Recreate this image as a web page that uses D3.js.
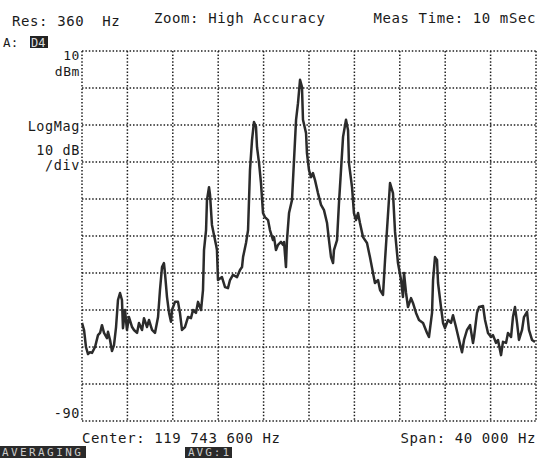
<!DOCTYPE html>
<html>
<head>
<meta charset="utf-8">
<script src="https://cdn.jsdelivr.net/npm/d3@7"></script>
<style>
  html, body { margin: 0; padding: 0; background: #fff; }
  svg { display: block; }
  text { font-family: "DejaVu Sans Mono", "Liberation Mono", monospace; fill: #1a1a1a; white-space: pre; }
</style>
</head>
<body>
<svg id="chart" width="538" height="458"></svg>
<script>
// ---- data (frequency offset from center in kHz, level in dBm) ----
const freqOffsetKHz = [
  -20.00,-19.82,-19.65,-19.47,-19.30,-19.12,-18.85,-18.59,-18.41,-18.24,
  -18.06,-17.80,-17.71,-17.53,-17.36,-17.18,-17.00,-16.83,-16.65,-16.48,
  -16.39,-16.21,-16.04,-15.86,-15.59,-15.42,-15.15,-14.98,-14.71,-14.54,
  -14.27,-14.10,-13.83,-13.57,-13.30,-13.13,-12.95,-12.78,-12.69,-12.51,
  -12.33,-12.16,-12.07,-11.81,-11.54,-11.37,-11.19,-10.93,-10.66,-10.40,
  -10.22,-9.96,-9.78,-9.51,-9.34,-9.25,-9.07,-8.99,-8.81,-8.72,
  -8.55,-8.37,-8.19,-8.11,-8.02,-7.67,-7.40,-7.14,-6.96,-6.70,
  -6.34,-6.08,-5.90,-5.81,-5.55,-5.37,-5.20,-5.02,-4.85,-4.67,
  -4.58,-4.40,-4.23,-4.05,-3.88,-3.61,-3.44,-3.17,-3.08,-2.91,
  -2.73,-2.47,-2.29,-2.20,-2.03,-1.94,-1.76,-1.50,-1.32,-1.14,
  -0.97,-0.79,-0.62,-0.53,-0.26,-0.18,0.00,0.18,0.35,0.53,
  0.79,1.06,1.32,1.59,1.76,1.94,2.12,2.20,2.47,2.64,
  2.82,3.00,3.26,3.44,3.52,3.79,3.96,4.14,4.32,4.49,
  4.76,5.11,5.37,5.64,5.81,6.08,6.26,6.52,6.70,6.87,
  7.14,7.40,7.58,7.84,8.11,8.28,8.37,8.55,8.72,8.99,
  9.16,9.43,9.69,10.05,10.40,10.57,10.84,10.93,11.10,11.28,
  11.37,11.63,11.81,11.98,12.25,12.51,12.69,12.95,13.22,13.48,
  13.66,13.92,14.19,14.45,14.54,14.80,14.98,15.33,15.51,15.77,
  16.04,16.21,16.48,16.65,16.92,17.09,17.36,17.53,17.80,17.97,
  18.15,18.33,18.50,18.77,18.94,19.21,19.38,19.65,19.91
];
const levelDBm = [
  -63.5,-65.4,-70.0,-71.9,-71.4,-71.6,-70.0,-66.8,-66.2,-64.1,
  -66.2,-67.6,-65.9,-68.1,-71.1,-69.5,-64.6,-57.3,-55.4,-57.3,
  -64.9,-60.0,-65.4,-61.9,-64.6,-65.4,-66.2,-63.5,-65.4,-62.2,
  -64.6,-62.7,-65.4,-66.2,-61.9,-54.6,-48.4,-47.3,-50.0,-56.5,
  -60.8,-63.2,-60.0,-57.8,-57.8,-60.8,-65.4,-64.6,-61.9,-62.2,
  -60.0,-60.8,-57.8,-60.0,-54.6,-43.8,-38.4,-30.3,-26.8,-28.9,
  -37.0,-39.7,-42.4,-43.8,-51.9,-51.1,-53.8,-54.1,-51.9,-50.5,
  -51.1,-49.2,-48.4,-45.7,-41.9,-38.4,-22.2,-14.1,-9.2,-10.5,
  -16.0,-20.3,-25.7,-33.8,-34.9,-35.7,-38.4,-41.1,-40.3,-43.8,
  -42.4,-41.6,-42.4,-41.6,-48.4,-41.1,-33.8,-30.3,-19.5,-8.6,
  -4.1,2.2,0.3,-8.6,-12.2,-17.6,-22.2,-24.1,-23.0,-24.9,
  -28.4,-31.6,-33.0,-36.5,-41.1,-45.7,-47.3,-43.8,-41.1,-31.1,
  -22.2,-13.2,-8.6,-11.4,-20.3,-26.8,-33.8,-35.7,-33.8,-36.5,
  -40.3,-41.9,-45.7,-50.0,-52.7,-51.9,-54.6,-55.9,-46.5,-38.4,
  -25.7,-28.4,-38.9,-47.3,-51.9,-56.5,-50.0,-55.4,-59.2,-56.8,
  -58.1,-60.8,-62.7,-63.5,-66.2,-67.3,-60.8,-51.9,-45.7,-46.5,
  -52.7,-59.2,-63.5,-64.9,-62.7,-63.5,-61.4,-64.6,-68.1,-71.4,
  -68.1,-65.4,-64.1,-68.9,-67.3,-60.8,-59.2,-58.9,-62.7,-66.2,
  -67.3,-66.8,-68.9,-68.1,-72.2,-68.6,-68.9,-66.2,-67.3,-61.9,
  -59.2,-63.5,-68.1,-65.4,-61.9,-60.5,-65.4,-68.1,-68.6
];
const xGridKHz = [-20,-16,-12,-8,-4,0,4,8,12,16,20];
const yGridDBm = [10,0,-10,-20,-30,-40,-50,-60,-70,-80,-90];
const refLevelLabel = ["10", "dBm"];
const scaleLabel = ["LogMag", "10 dB", "/div"];
const bottomLevelLabel = "-90";
const headerTexts = ["Res: 360  Hz", "Zoom: High Accuracy", "Meas Time: 10 mSec"];
const footerTexts = ["Center: 119 743 600 Hz", "Span: 40 000 Hz"];
const statusTexts = ["AVERAGING", "AVG:1"];
const traceLabel = ["A:", "D4"];

// ---- drawing ----
const svg = d3.select("#chart");
const x = d3.scaleLinear().domain([-20, 20]).range([82, 536]);
const y = d3.scaleLinear().domain([-90, 10]).range([421, 51]);

const grid = svg.append("g")
  .attr("stroke", "#1f1f1f")
  .attr("stroke-width", 1.5)
  .attr("stroke-dasharray", "1.5,1.9")
  .attr("fill", "none");

grid.selectAll("line.v").data(xGridKHz).join("line")
  .attr("class", "v")
  .attr("x1", d => x(d)).attr("x2", d => x(d))
  .attr("y1", y(10)).attr("y2", y(-90));
grid.selectAll("line.h").data(yGridDBm).join("line")
  .attr("class", "h")
  .attr("x1", x(-20)).attr("x2", x(20))
  .attr("y1", d => y(d)).attr("y2", d => y(d));

// trace
const pts = freqOffsetKHz.map((f, i) => [f, levelDBm[i]]);
const line = d3.line().x(d => x(d[0])).y(d => y(d[1]));
svg.append("path")
  .datum(pts)
  .attr("d", line)
  .attr("fill", "none")
  .attr("stroke", "#2b2b2b")
  .attr("stroke-width", 2.5)
  .attr("stroke-linejoin", "round");

// texts
const txt = (s, tx, ty, anchor = "start", size = 14, ls = 0.6) =>
  svg.append("text").attr("x", tx).attr("y", ty)
    .attr("text-anchor", anchor)
    .attr("font-size", size)
    .attr("letter-spacing", ls)
    .text(s);

txt(headerTexts[0], 12, 26);
txt(headerTexts[1], 154, 23);
txt(headerTexts[2], 536, 23, "end");

txt(traceLabel[0], 3, 47, "start", 12.5, 0.3);
svg.append("rect").attr("x", 30).attr("y", 36).attr("width", 18).attr("height", 12).attr("fill", "#222");
txt(traceLabel[1], 31, 46.5, "start", 12, 0).style("fill", "#ddd");

txt(refLevelLabel[0], 80, 60, "end", 13);
txt(refLevelLabel[1], 80, 76, "end", 13);
txt(scaleLabel[0], 80, 131, "end", 13.5);
txt(scaleLabel[1], 80, 155, "end", 13.5);
txt(scaleLabel[2], 80, 170, "end", 13.5);
txt(bottomLevelLabel, 80, 418, "end", 13.5);

txt(footerTexts[0], 82, 443);
txt(footerTexts[1], 536, 443, "end");

svg.append("rect").attr("x", 0).attr("y", 446).attr("width", 86).attr("height", 12).attr("fill", "#2a2a2a");
txt(statusTexts[0], 2, 455.5, "start", 11, 2.4).style("fill", "#ccc");
svg.append("rect").attr("x", 185).attr("y", 447).attr("width", 47).attr("height", 11).attr("fill", "#2a2a2a");
txt(statusTexts[1], 188, 455.5, "start", 11, 2.0).style("fill", "#ccc");
</script>
</body>
</html>
